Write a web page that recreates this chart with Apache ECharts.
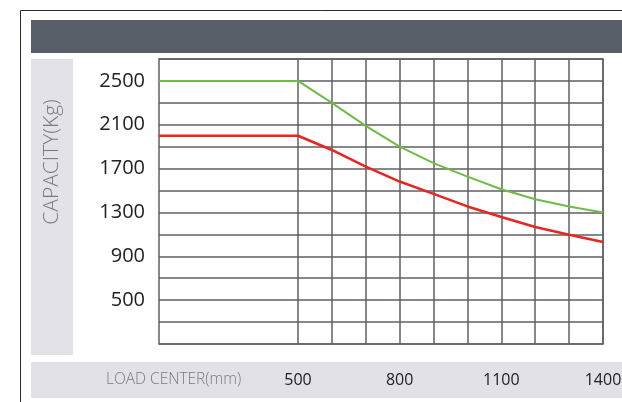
<!DOCTYPE html>
<html>
<head>
<meta charset="utf-8">
<script src="https://cdn.jsdelivr.net/npm/echarts@6/dist/echarts.min.js"></script>
<style>
html,body{margin:0;padding:0;background:#fff;}
#chart{width:622px;height:402px;}
</style>
</head>
<body>
<div id="chart"></div>
<script>
// Load center (mm) — first value is the left edge of the plot
const loadCenters = [90, 500, 600, 700, 800, 900, 1000, 1100, 1200, 1300, 1400];
// Capacity (kg)
const greenCapacity = [2500, 2500, 2300, 2090, 1900, 1750, 1627, 1512, 1421, 1355, 1300];
const redCapacity   = [2000, 2000, 1870, 1718, 1582, 1470, 1355, 1258, 1167, 1097, 1030];

const xGridValues = [500, 600, 700, 800, 900, 1000, 1100, 1200, 1300, 1400];
const xTickLabels = [500, 800, 1100, 1400];
const yTickLabels = [500, 900, 1300, 1700, 2100, 2500];

const xTitle = 'LOAD CENTER(mm)';
const yTitle = 'CAPACITY(Kg)';

const gridColor = '#5f6064';
const FONT = '"Open Sans", "DejaVu Sans", sans-serif';

const chart = echarts.init(document.getElementById('chart'), null, {renderer: 'canvas'});

const pairs = (ys) => loadCenters.map((x, i) => [x, ys[i]]);

chart.setOption({
  animation: false,
  backgroundColor: '#ffffff',
  grid: {
    left: 159, top: 59, right: 19, bottom: 58,
    outerBoundsMode: 'none', containLabel: false,
    show: true, borderColor: gridColor, borderWidth: 1.5, backgroundColor: 'transparent'
  },
  graphic: [
    {type: 'line', shape: {x1: 20.5, y1: 10.5, x2: 622, y2: 10.5}, style: {stroke: '#2a2a2a', lineWidth: 1}, z: 0},
    {type: 'line', shape: {x1: 20.5, y1: 10.5, x2: 20.5, y2: 402}, style: {stroke: '#2a2a2a', lineWidth: 1}, z: 0},
    {type: 'rect', shape: {x: 31, y: 20, width: 591, height: 33}, style: {fill: '#575e68'}, z: 0},
    {type: 'rect', shape: {x: 31, y: 59, width: 42, height: 296}, style: {fill: '#e2e2e8'}, z: 0},
    {type: 'rect', shape: {x: 31, y: 362, width: 591, height: 36}, style: {fill: '#e1e1e7'}, z: 0},
    {type: 'text', x: 52, y: 162, rotation: Math.PI / 2,
      style: {text: yTitle, fill: '#7a7a7e', font: '300 21px ' + FONT, align: 'center', verticalAlign: 'middle'}, z: 2},
    {type: 'text', x: 106, y: 380,
      style: {text: xTitle, fill: '#7a7a7e', font: '300 15.5px ' + FONT, align: 'left', verticalAlign: 'middle'}, z: 2}
  ],
  xAxis: {
    type: 'value', min: 90, max: 1400,
    axisLine: {show: false},
    axisTick: {show: false},
    axisLabel: {customValues: xTickLabels, formatter: (v) => String(v), color: '#222', fontFamily: FONT, fontSize: 16, margin: 28},
    splitLine: {show: false}
  },
  yAxis: {
    type: 'value', min: 100, max: 2700, interval: 200,
    axisLine: {show: false},
    axisTick: {show: false},
    axisLabel: {customValues: yTickLabels, formatter: (v) => String(v), color: '#222', fontFamily: FONT, fontSize: 20, margin: 14},
    splitLine: {show: true, lineStyle: {color: gridColor, width: 1.5}}
  },
  series: [
    {type: 'line', data: [], symbol: 'none', z: 2, silent: true,
      markLine: {
        silent: true, symbol: ['none', 'none'], animation: false,
        label: {show: false},
        lineStyle: {color: gridColor, width: 1.5, type: 'solid'},
        emphasis: {disabled: true},
        data: xGridValues.map((v) => ({xAxis: v}))
      }},
    {type: 'line', data: pairs(greenCapacity), symbol: 'none', z: 5,
      lineStyle: {color: '#6dbd45', width: 2}},
    {type: 'line', data: pairs(redCapacity), symbol: 'none', z: 5,
      lineStyle: {color: '#e6261f', width: 2.5}}
  ]
});
</script>
</body>
</html>
